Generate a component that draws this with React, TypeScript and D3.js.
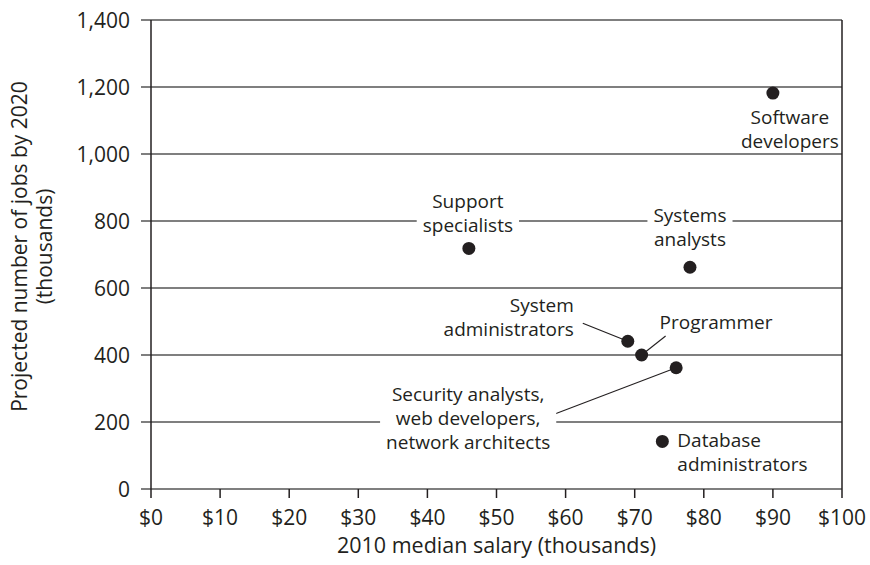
import React, { useEffect, useRef } from "react";
import * as d3 from "d3";

// values (thousands)
const occupations = [
  "Software developers",
  "Support specialists",
  "Systems analysts",
  "System administrators",
  "Programmer",
  "Security analysts, web developers, network architects",
  "Database administrators",
];
const salary = [90, 46, 78, 69, 71, 76, 74];
const jobs = [1182, 718, 662, 441, 400, 362, 142];

const xTicks = [0, 10, 20, 30, 40, 50, 60, 70, 80, 90, 100];
const yTicks = [0, 200, 400, 600, 800, 1000, 1200, 1400];

// label layout per point: text lines, anchor, offset from the dot, optional leader
type Lbl = {
  lines: string[];
  anchor: "start" | "middle" | "end";
  dx: number;
  dy: number;
  mask?: boolean;
  leader?: [number, number];
};
const labels: Lbl[] = [
  { lines: ["Software", "developers"], anchor: "middle", dx: 17, dy: 31 },
  { lines: ["Support", "specialists"], anchor: "middle", dx: -1, dy: -40, mask: true },
  { lines: ["Systems", "analysts"], anchor: "middle", dx: 0, dy: -45, mask: true },
  { lines: ["System", "administrators"], anchor: "end", dx: -54, dy: -29, leader: [-45, -18] },
  { lines: ["Programmer"], anchor: "start", dx: 18, dy: -26, leader: [24, -19] },
  {
    lines: ["Security analysts,", "web developers,", "network architects"],
    anchor: "middle",
    dx: -208,
    dy: 33,
    mask: true,
    leader: [-126, 48],
  },
  { lines: ["Database", "administrators"], anchor: "start", dx: 15, dy: 6 },
];

const W = 870;
const H = 565;
const margin = { top: 20, right: 28, bottom: 76, left: 151 };
const ink = "#231f20";
const grid = "#555";
const font = "'Open Sans', sans-serif";

export default function App() {
  const ref = useRef<SVGSVGElement | null>(null);

  useEffect(() => {
    const svg = d3.select(ref.current);
    svg.selectAll("*").remove();

    const x = d3.scaleLinear().domain([0, 100]).range([margin.left, W - margin.right]);
    const y = d3.scaleLinear().domain([0, 1400]).range([H - margin.bottom, margin.top]);

    // horizontal grid lines with tick stubs on the left
    svg
      .append("g")
      .selectAll("line")
      .data(yTicks)
      .enter()
      .append("line")
      .attr("x1", margin.left - 10)
      .attr("x2", W - margin.right)
      .attr("y1", (d) => y(d))
      .attr("y2", (d) => y(d))
      .attr("stroke", grid)
      .attr("stroke-width", 1.6);

    // frame verticals
    [0, 100].forEach((v) => {
      svg
        .append("line")
        .attr("x1", x(v))
        .attr("x2", x(v))
        .attr("y1", y(1400))
        .attr("y2", y(0))
        .attr("stroke", ink)
        .attr("stroke-width", 1.5);
    });

    // x ticks
    svg
      .append("g")
      .selectAll("line")
      .data(xTicks)
      .enter()
      .append("line")
      .attr("x1", (d) => x(d))
      .attr("x2", (d) => x(d))
      .attr("y1", y(0))
      .attr("y2", y(0) + 9)
      .attr("stroke", ink)
      .attr("stroke-width", 1.5);

    svg
      .append("g")
      .selectAll("text")
      .data(xTicks)
      .enter()
      .append("text")
      .attr("x", (d) => x(d))
      .attr("y", y(0) + 36)
      .attr("text-anchor", "middle")
      .attr("font-family", font)
      .attr("font-size", 21)
      .attr("fill", ink)
      .text((d) => "$" + d);

    svg
      .append("g")
      .selectAll("text")
      .data(yTicks)
      .enter()
      .append("text")
      .attr("x", margin.left - 21)
      .attr("y", (d) => y(d) + 7.5)
      .attr("text-anchor", "end")
      .attr("font-family", font)
      .attr("font-size", 21)
      .attr("fill", ink)
      .text((d) => d3.format(",")(d));

    // axis titles
    svg
      .append("text")
      .attr("x", (x(0) + x(100)) / 2)
      .attr("y", H - 12)
      .attr("text-anchor", "middle")
      .attr("font-family", font)
      .attr("font-size", 21.5)
      .attr("fill", ink)
      .text("2010 median salary (thousands)");

    const yt = svg
      .append("text")
      .attr("transform", `translate(0, ${(y(0) + y(1400)) / 2 - 8}) rotate(-90)`)
      .attr("text-anchor", "middle")
      .attr("font-family", font)
      .attr("font-size", 21)
      .attr("fill", ink);
    yt.append("tspan").attr("x", 0).attr("y", 27).text("Projected number of jobs by 2020");
    yt.append("tspan").attr("x", 0).attr("y", 52).text("(thousands)");

    // labels
    const lh = 24;
    occupations.forEach((name, i) => {
      const L = labels[i];
      const px = x(salary[i]);
      const py = y(jobs[i]);
      const g = svg.append("g").attr("aria-label", name);
      if (L.leader) {
        const [lx, ly] = L.leader;
        g.append("line")
          .attr("x1", px)
          .attr("y1", py)
          .attr("x2", px + lx)
          .attr("y2", py + ly)
          .attr("stroke", ink)
          .attr("stroke-width", 1.1);
      }
      const t = g
        .append("text")
        .attr("text-anchor", L.anchor)
        .attr("font-family", font)
        .attr("font-size", 19)
        .attr("fill", ink);
      L.lines.forEach((ln, k) => {
        t.append("tspan")
          .attr("x", px + L.dx)
          .attr("y", py + L.dy + k * lh)
          .text(ln);
      });
      if (L.mask) {
        const bb = (t.node() as SVGTextElement).getBBox();
        g.insert("rect", "text")
          .attr("x", bb.x - 6)
          .attr("y", bb.y)
          .attr("width", bb.width + 12)
          .attr("height", bb.height)
          .attr("fill", "#fff");
      }
    });

    // dots
    svg
      .append("g")
      .selectAll("circle")
      .data(occupations.map((n, i) => i))
      .enter()
      .append("circle")
      .attr("cx", (i) => x(salary[i]))
      .attr("cy", (i) => y(jobs[i]))
      .attr("r", 6.5)
      .attr("fill", ink);
  }, []);

  return (
    <svg
      ref={ref}
      width={W}
      height={H}
      style={{ position: "absolute", left: 0, top: 0, display: "block", background: "#fff" }}
    />
  );
}
